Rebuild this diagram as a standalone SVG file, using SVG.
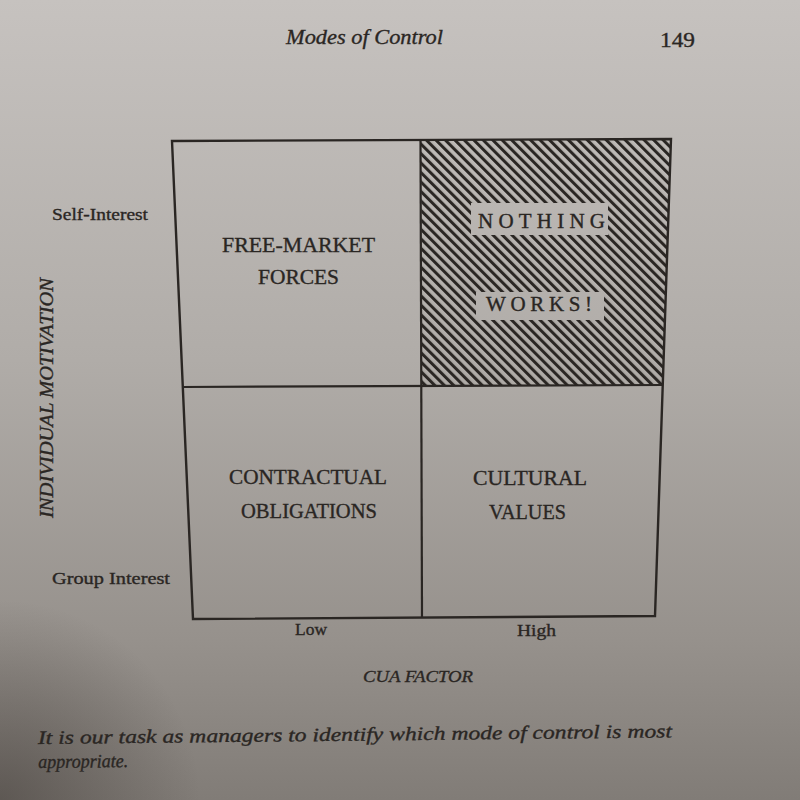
<svg xmlns="http://www.w3.org/2000/svg" width="800" height="800" viewBox="0 0 800 800">
  <defs>
    <!-- paper tone: lighter at the top, darker toward the bottom -->
    <linearGradient id="paper" gradientUnits="userSpaceOnUse" x1="0" y1="0" x2="0" y2="800">
      <stop offset="0" stop-color="#c6c2bf"/>
      <stop offset="0.45" stop-color="#b0aca8"/>
      <stop offset="0.8" stop-color="#96918c"/>
      <stop offset="1" stop-color="#817c77"/>
    </linearGradient>
    <radialGradient id="shade" gradientUnits="userSpaceOnUse" cx="0" cy="800" r="200">
      <stop offset="0" stop-color="#3a3430" stop-opacity="0.5"/>
      <stop offset="1" stop-color="#3a3430" stop-opacity="0"/>
    </radialGradient>
    <!-- diagonal hatching for the shaded quadrant -->
    <pattern id="hatch" patternUnits="userSpaceOnUse" width="6.7" height="12" patternTransform="rotate(-45)">
      <rect x="0" y="0" width="3" height="12" fill="#2a2623"/>
    </pattern>
    <style>
      .serif { font-family: "Liberation Serif", "Times New Roman", serif; fill: #2a2623; stroke: #2a2623; stroke-width: 0.35; }
      .it { font-style: italic; }
      .cell { font-size: 21px; }
      .tick { font-size: 17px; }
      .frame { fill: none; stroke: #2a2623; stroke-width: 2.4; stroke-linejoin: miter; }
      .grid { stroke: #2a2623; stroke-width: 2.2; fill: none; }
    </style>
  </defs>

  <!-- page -->
  <rect x="0" y="0" width="800" height="800" fill="url(#paper)"/>
  <rect x="0" y="0" width="800" height="800" fill="url(#shade)"/>

  <!-- running head -->
  <text class="serif it" x="286" y="44" font-size="21" textLength="157" lengthAdjust="spacingAndGlyphs">Modes of Control</text>
  <text class="serif" x="660" y="47" font-size="21" textLength="35" lengthAdjust="spacingAndGlyphs">149</text>

  <!-- hatched quadrant -->
  <g id="nothing-works">
    <polygon points="421,140 671,139 663,385 422,386" fill="url(#hatch)"/>
    <rect x="471" y="203" width="137" height="32" fill="url(#paper)"/>
    <rect x="476" y="292" width="128" height="28" fill="url(#paper)"/>
    <text class="serif cell" x="478" y="228" textLength="127" lengthAdjust="spacing">NOTHING</text>
    <text class="serif cell" x="486" y="311" textLength="106" lengthAdjust="spacing">WORKS!</text>
  </g>

  <!-- frame and dividing lines -->
  <g id="connectors">
    <polygon class="frame" points="172,141 671,139 655,616 193,619"/>
    <line class="grid" x1="420.5" y1="140" x2="422" y2="617"/>
    <line class="grid" x1="182.5" y1="387" x2="663" y2="385"/>
  </g>

  <g id="free-market-forces">
    <text class="serif cell" x="222" y="252" textLength="153" lengthAdjust="spacingAndGlyphs">FREE-MARKET</text>
    <text class="serif cell" x="258" y="284" textLength="81" lengthAdjust="spacingAndGlyphs">FORCES</text>
  </g>

  <g id="contractual-obligations">
    <text class="serif cell" x="229" y="484" textLength="158" lengthAdjust="spacingAndGlyphs">CONTRACTUAL</text>
    <text class="serif cell" x="241" y="518" textLength="136" lengthAdjust="spacingAndGlyphs">OBLIGATIONS</text>
  </g>

  <g id="cultural-values">
    <text class="serif cell" x="473" y="485" textLength="114" lengthAdjust="spacingAndGlyphs">CULTURAL</text>
    <text class="serif cell" x="489" y="519" textLength="77" lengthAdjust="spacingAndGlyphs">VALUES</text>
  </g>

  <!-- axes -->
  <g id="axis-y">
    <text class="serif tick" x="52" y="220" textLength="96" lengthAdjust="spacingAndGlyphs">Self-Interest</text>
    <text class="serif tick" x="52" y="584" textLength="118" lengthAdjust="spacingAndGlyphs">Group Interest</text>
    <text class="serif it" x="0" y="0" font-size="18" transform="translate(53,518) rotate(-90)" textLength="240" lengthAdjust="spacingAndGlyphs">INDIVIDUAL MOTIVATION</text>
  </g>
  <g id="axis-x">
    <text class="serif tick" x="295" y="635" textLength="32" lengthAdjust="spacingAndGlyphs">Low</text>
    <text class="serif tick" x="517" y="636" textLength="39" lengthAdjust="spacingAndGlyphs">High</text>
    <text class="serif it tick" x="363" y="682" textLength="110" lengthAdjust="spacingAndGlyphs">CUA FACTOR</text>
  </g>

  <!-- caption -->
  <g id="caption" transform="rotate(-0.6 38 744)">
    <text class="serif it" x="38" y="744" font-size="19" textLength="634" lengthAdjust="spacingAndGlyphs">It is our task as managers to identify which mode of control is most</text>
    <text class="serif it" x="38" y="768" font-size="19" textLength="90" lengthAdjust="spacingAndGlyphs">appropriate.</text>
  </g>
</svg>
